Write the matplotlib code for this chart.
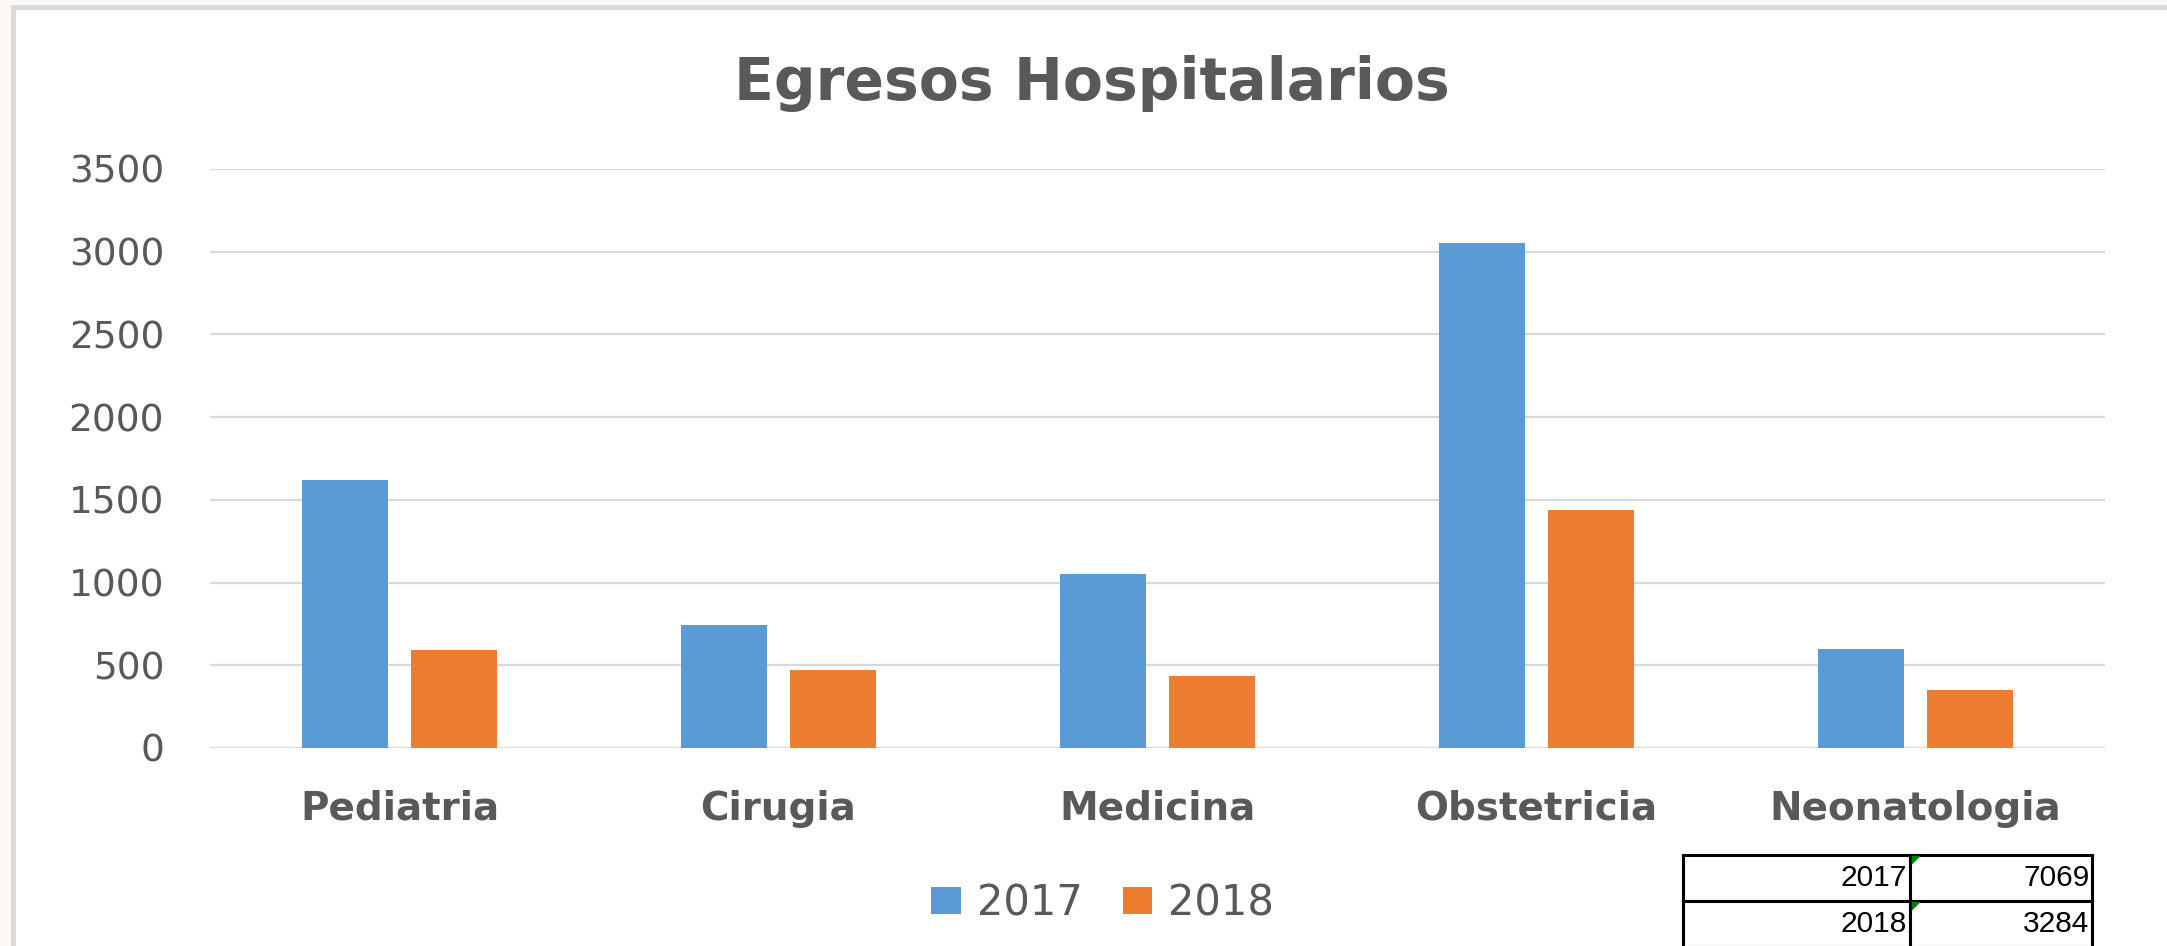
import matplotlib
matplotlib.use("Agg")
import numpy as np
import matplotlib.pyplot as plt
from matplotlib.patches import Rectangle, Polygon

# data
categories = ["Pediatria", "Cirugia", "Medicina", "Obstetricia", "Neonatologia"]
series_names = ["2017", "2018"]
values_2017 = [1618, 746, 1050, 3055, 600]
values_2018 = [590, 474, 433, 1438, 349]
y_ticks = [0, 500, 1000, 1500, 2000, 2500, 3000, 3500]
totals_table = [["2017", "7069"], ["2018", "3284"]]

blue = "#5b9bd5"
orange = "#ed7d31"
text_gray = "#595959"
grid_gray = "#d9d9d9"

W, H = 2167, 946
fig = plt.figure(figsize=(W / 100, H / 100), dpi=100)
fig.patch.set_facecolor("#fdf7f3")

# chart area (white with grey border at left / top)
fig.patches.append(Rectangle((13 / W, -0.02), 1.05, 1 - 7 / H + 0.02,
                             transform=fig.transFigure, facecolor="white",
                             edgecolor=grid_gray, linewidth=3.5, zorder=-5))

ax = fig.add_axes([210 / W, 1 - 748 / H, (2105 - 210) / W, (748 - 169) / H])
ax.set_facecolor("none")

x = np.arange(len(categories))
bw = 0.227
off = 0.143
b1 = ax.bar(x - off, values_2017, bw, color=blue, label=series_names[0], zorder=3)
b2 = ax.bar(x + off, values_2018, bw, color=orange, label=series_names[1], zorder=3)

ax.set_xlim(-0.5, len(categories) - 0.5)
ax.set_ylim(0, 3500)
ax.set_yticks(y_ticks)
ax.set_yticklabels([str(v) for v in y_ticks], fontsize=27, color=text_gray)
ax.set_xticks(x)
ax.set_xticklabels(categories, fontsize=28, fontweight="bold", color=text_gray)
ax.tick_params(axis="y", length=0, pad=33)
ax.tick_params(axis="x", length=0, pad=30)
ax.yaxis.grid(True, color=grid_gray, linewidth=1.6, zorder=0)
ax.set_axisbelow(True)
for s in ax.spines.values():
    s.set_visible(False)

fig.text(1092 / W, 1 - 84 / H, "Egresos Hospitalarios", fontsize=42,
         fontweight="bold", color=text_gray, ha="center", va="center")

fig.legend(handles=[b1, b2], labels=series_names, loc="center",
           bbox_to_anchor=(1103 / W, 1 - 903 / H), ncol=2, frameon=False,
           fontsize=30, labelcolor=text_gray, handlelength=0.7,
           handleheight=0.6, handletextpad=0.4, columnspacing=0.95)

# small totals table at bottom right
tax = fig.add_axes([1683 / W, 1 - 947 / H, (2092 - 1683) / W, 92 / H])
tax.axis("off")
c1 = 227 / 409
tbl = tax.table(cellText=totals_table, cellLoc="right", bbox=[0, 0, 1, 1],
                colWidths=[c1, 1 - c1])
tbl.auto_set_font_size(False)
for (r, c), cell in tbl.get_celld().items():
    cell.set_edgecolor("black")
    cell.set_linewidth(2.2)
    cell.PAD = 0.015
    cell.get_text().set_fontsize(21.5)
    cell.get_text().set_fontfamily("Liberation Sans")
for top in [1.0, 0.5]:
    tax.add_patch(Polygon([[c1 + 0.004, top - 0.01], [c1 + 0.004 + 9 / 409, top - 0.01],
                           [c1 + 0.004, top - 0.01 - 9 / 92]], closed=True,
                          facecolor="#008000", edgecolor="none",
                          transform=tax.transAxes, zorder=5))

fig.savefig("out.png", dpi=100, facecolor=fig.get_facecolor())
